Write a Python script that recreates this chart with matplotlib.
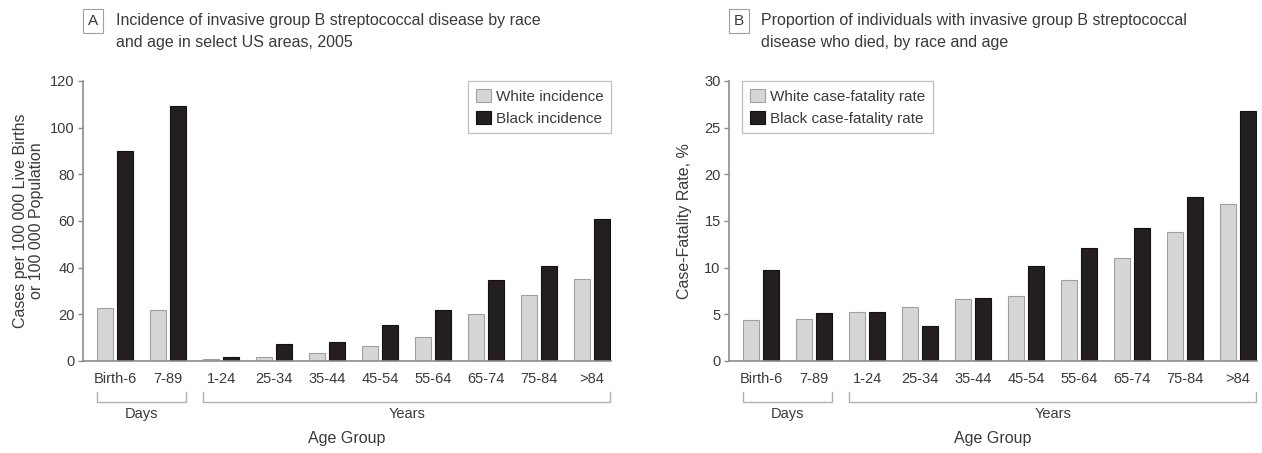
import matplotlib
matplotlib.use("Agg")
import matplotlib.pyplot as plt
import numpy as np
from matplotlib.transforms import blended_transform_factory

plt.rcParams['font.family'] = ['Liberation Sans', 'DejaVu Sans']

categories = ['Birth-6', '7-89', '1-24', '25-34', '35-44', '45-54', '55-64', '65-74', '75-84', '>84']
white_incidence = [22.6, 21.9, 1.0, 1.9, 3.5, 6.5, 10.2, 20.3, 28.3, 35.2]
black_incidence = [90.2, 109.2, 1.8, 7.3, 8.3, 15.6, 21.9, 34.7, 40.7, 60.8]
white_cfr = [4.4, 4.5, 5.3, 5.75, 6.6, 7.0, 8.7, 11.0, 13.8, 16.8]
black_cfr = [9.7, 5.1, 5.3, 3.8, 6.7, 10.2, 12.1, 14.25, 17.6, 26.8]
group_labels = ['Days', 'Years']
group_spans = [(0, 1), (2, 9)]

W, H = 1262, 453
fig = plt.figure(figsize=(W / 100, H / 100), dpi=100)

TXT = '#3a3a3a'
SPINE = '#8c8c8c'
LIGHT = '#d6d6d6'
DARK = '#231f20'


def px_axes(x0, y_top, w, h):
    return fig.add_axes([x0 / W, 1 - (y_top + h) / H, w / W, h / H])


def panel(ax, white, black, ymax, ystep, ylabel, ylabel_x, labels, legend_loc, legend_anchor):
    x = np.arange(len(categories))
    bw = 0.30
    off = 0.19
    ax.bar(x - off, white, bw, color=LIGHT, edgecolor='#a0a0a0', linewidth=0.8, label=labels[0], zorder=2)
    ax.bar(x + off, black, bw, color=DARK, edgecolor='#111111', linewidth=0.8, label=labels[1], zorder=2)
    ax.set_xlim(-0.61, 9.36)
    ax.set_ylim(0, ymax)
    ax.set_yticks(np.arange(0, ymax + 0.01, ystep))
    ax.set_xticks(x)
    ax.set_xticklabels(categories)
    for s in ['top', 'right']:
        ax.spines[s].set_visible(False)
    for s in ['left', 'bottom']:
        ax.spines[s].set_color(SPINE)
        ax.spines[s].set_linewidth(1.2)
    ax.tick_params(axis='y', length=3.5, width=1, color=SPINE, labelsize=10.5, labelcolor=TXT, pad=2.5)
    ax.tick_params(axis='x', length=0, labelsize=10.5, labelcolor=TXT, pad=8)
    ax.set_ylabel(ylabel, fontsize=11.5, color=TXT, linespacing=1.15)
    ax.yaxis.set_label_coords(ylabel_x, 0.5)

    tr = blended_transform_factory(ax.transData, ax.transAxes)
    for name, (a, b) in zip(group_labels, group_spans):
        xl = a - off - bw / 2
        xr = b + off + bw / 2
        ax.plot([xl, xl, xr, xr], [-0.112, -0.148, -0.148, -0.112], transform=tr,
                color='#b0b0b0', lw=1.0, clip_on=False)
        ax.text((xl + xr) / 2, -0.19, name, transform=tr, ha='center', va='center',
                fontsize=10.5, color=TXT)
    ax.text(0.5, -0.275, 'Age Group', transform=ax.transAxes, ha='center', va='center',
            fontsize=11.5, color=TXT)

    leg = ax.legend(loc=legend_loc, bbox_to_anchor=legend_anchor, fontsize=11, frameon=True,
                    fancybox=False, edgecolor='#b0b0b0', handlelength=1.0, handleheight=1.0,
                    handletextpad=0.3, borderpad=0.5, labelspacing=0.45, borderaxespad=0)
    leg.get_frame().set_linewidth(0.9)
    for t in leg.get_texts():
        t.set_color(TXT)


ax1 = px_axes(83, 81, 528, 280)
panel(ax1, white_incidence, black_incidence, 120, 20,
      'Cases per 100 000 Live Births\nor 100 000 Population', -0.073,
      ['White incidence', 'Black incidence'], 'upper right', (1.0, 1.0))

ax2 = px_axes(729, 81, 528, 280)
panel(ax2, white_cfr, black_cfr, 30, 5,
      'Case-Fatality Rate, %', -0.07,
      ['White case-fatality rate', 'Black case-fatality rate'], 'upper left', (0.025, 1.0))


def title(x_box, x_text, letter, lines):
    fig.text(x_box / W, 1 - 21 / H, letter, fontsize=11, color=TXT, ha='left', va='center',
             bbox=dict(boxstyle='square,pad=0.3', fc='white', ec='#a0a0a0', lw=0.8))
    for i, line in enumerate(lines):
        fig.text(x_text / W, 1 - (20 + 22 * i) / H, line, fontsize=11.5, color=TXT,
                 ha='left', va='center')


title(88, 116, 'A', ['Incidence of invasive group B streptococcal disease by race',
                     'and age in select US areas, 2005'])
title(734, 761, 'B', ['Proportion of individuals with invasive group B streptococcal',
                      'disease who died, by race and age'])

fig.savefig('out.png', dpi=100, facecolor='white')
